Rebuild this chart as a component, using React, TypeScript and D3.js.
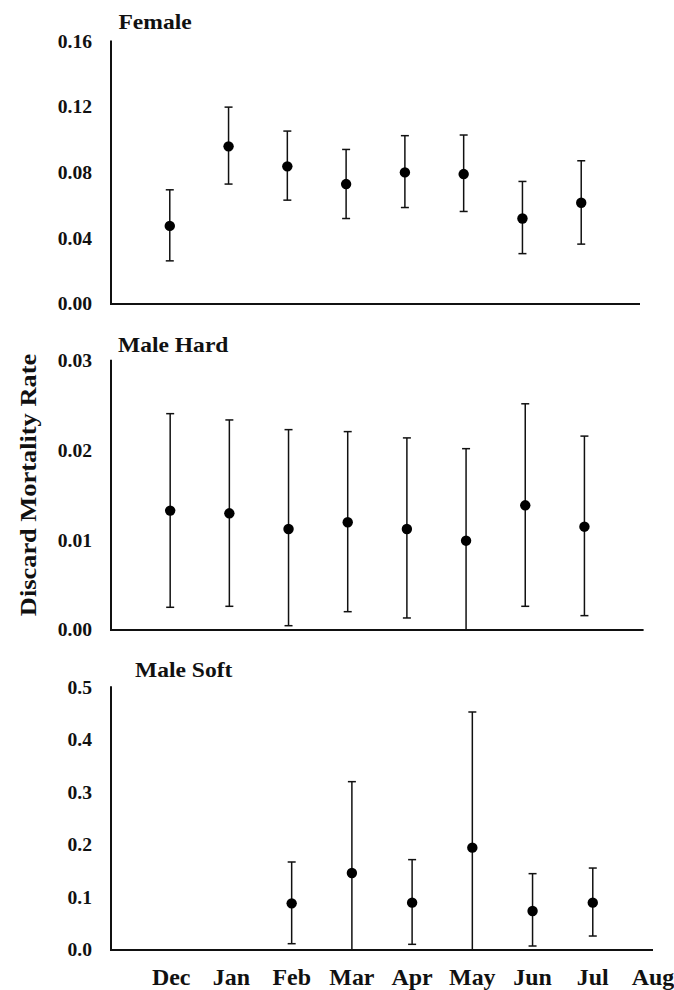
import React from "react";
import * as d3 from "d3";

const months = ["Dec", "Jan", "Feb", "Mar", "Apr", "May", "Jun", "Jul", "Aug"];

const femaleMean = [0.0476, 0.0961, 0.0839, 0.0731, 0.0802, 0.0792, 0.0521, 0.0617, null];
const femaleLow = [0.0263, 0.0731, 0.0633, 0.0521, 0.0588, 0.0564, 0.0307, 0.0365, null];
const femaleHigh = [0.0696, 0.12, 0.1054, 0.0942, 0.1026, 0.103, 0.0747, 0.0873, null];
const femaleTicks = [0, 0.04, 0.08, 0.12, 0.16];

const hardMean = [0.0133, 0.013, 0.01125, 0.012, 0.01125, 0.00995, 0.01389, 0.01151, null];
const hardLow = [0.00253, 0.00264, 0.00048, 0.00204, 0.00134, 0, 0.00264, 0.0016, null];
const hardHigh = [0.0241, 0.0234, 0.02232, 0.0221, 0.0214, 0.0202, 0.0252, 0.0216, null];
const hardTicks = [0, 0.01, 0.02, 0.03];

const softMean = [null, null, 0.0888, 0.1466, 0.0901, 0.1948, 0.0742, 0.0901, null];
const softLow = [null, null, 0.012, 0, 0.0108, 0, 0.0076, 0.0266, null];
const softHigh = [null, null, 0.1675, 0.3204, 0.172, 0.453, 0.1453, 0.156, null];
const softTicks = [0, 0.1, 0.2, 0.3, 0.4, 0.5];

const FONT = "'Liberation Serif', 'Times New Roman', serif";

// text in the picture is slightly wider than the font, so stretch x a little
const Label = ({ x, y, size, sx = 1.06, anchor = "start", rotate = 0, children }: any) => (
  <text
    transform={`translate(${x},${y}) rotate(${rotate}) scale(${sx},1)`}
    fontFamily={FONT}
    fontWeight="bold"
    fontSize={size}
    textAnchor={anchor}
    fill="#111"
  >
    {children}
  </text>
);

const Panel = ({ title, titleX, titleY, top, bottom, right, max, ticks, fmt, mean, low, high, xLabels }: any) => {
  const left = 111;
  const x = d3.scaleLinear().domain([0, months.length]).range([left, right]);
  const y = d3.scaleLinear().domain([0, max]).range([bottom, top]);
  const f = d3.format(fmt);
  return (
    <g>
      <Label x={titleX} y={titleY} size={22} sx={1.07}>{title}</Label>
      {ticks.map((t: number) => (
        <Label key={t} x={92} y={y(t) + 6.3} size={18.5} anchor="end">{f(t)}</Label>
      ))}
      <line x1={left} x2={left} y1={y(max) - 1} y2={bottom + 1} stroke="#111" strokeWidth={2} />
      <line x1={left} x2={right} y1={bottom} y2={bottom} stroke="#111" strokeWidth={2} />
      {months.map((m, i) => {
        if (mean[i] == null) return null;
        const cx = x(i + 1);
        return (
          <g key={m}>
            <line x1={cx} x2={cx} y1={y(high[i])} y2={y(low[i])} stroke="#111" strokeWidth={1.5} />
            <line x1={cx - 4} x2={cx + 4} y1={y(high[i])} y2={y(high[i])} stroke="#111" strokeWidth={1.5} />
            {low[i] > 0 && (
              <line x1={cx - 4} x2={cx + 4} y1={y(low[i])} y2={y(low[i])} stroke="#111" strokeWidth={1.5} />
            )}
            <circle cx={cx} cy={y(mean[i])} r={5.2} fill="#000" />
          </g>
        );
      })}
      {xLabels &&
        months.map((m, i) => (
          <Label key={m} x={x(i + 1)} y={985} size={23} sx={1.04} anchor="middle">{m}</Label>
        ))}
    </g>
  );
};

export default function App() {
  return (
    <svg width={674} height={990} style={{ position: "absolute", left: 0, top: 0, background: "#fff" }}>
      <Panel
        title="Female" titleX={118.5} titleY={29} top={41.5} bottom={304} right={640}
        max={0.16} ticks={femaleTicks} fmt=".2f"
        mean={femaleMean} low={femaleLow} high={femaleHigh}
      />
      <Panel
        title="Male Hard" titleX={118} titleY={352} top={360.7} bottom={630} right={643.6}
        max={0.03} ticks={hardTicks} fmt=".2f"
        mean={hardMean} low={hardLow} high={hardHigh}
      />
      <Panel
        title="Male Soft" titleX={135} titleY={676.5} top={687.3} bottom={950} right={653}
        max={0.5} ticks={softTicks} fmt=".1f"
        mean={softMean} low={softLow} high={softHigh} xLabels
      />
      <Label x={36} y={485} size={24} sx={1.1} anchor="middle" rotate={-90}>Discard Mortality Rate</Label>
    </svg>
  );
}
